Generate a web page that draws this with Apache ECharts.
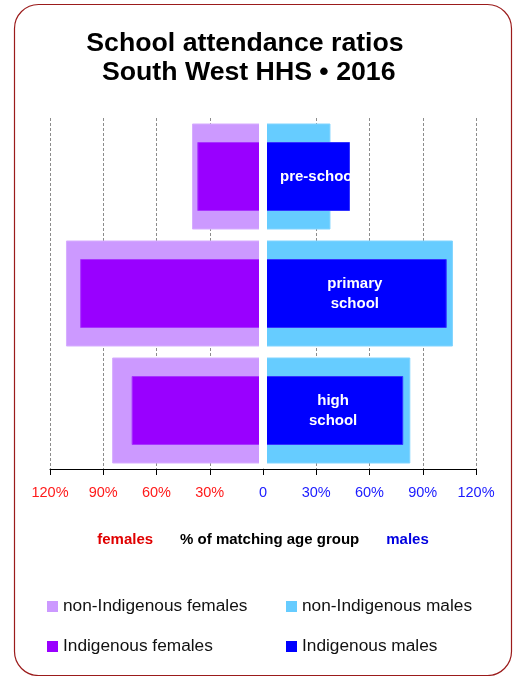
<!DOCTYPE html>
<html>
<head>
<meta charset="utf-8">
<script src="https://cdn.jsdelivr.net/npm/echarts@6/dist/echarts.min.js"></script>
<style>
html,body{margin:0;padding:0;background:#fff;}
#chart{width:517px;height:676px;}
</style>
</head>
<body>
<div id="chart"></div>
<script>
// ---- data ----
const categories = ['pre-school', 'primary school', 'high school'];
const nonIndigenousFemales = [40, 111, 85];
const indigenousFemales = [37, 103, 74];
const nonIndigenousMales = [38, 107, 83];
const indigenousMales = [49, 103.5, 79];
const tickValues = [-120, -90, -60, -30, 0, 30, 60, 90, 120];

const FEMALE_RED = '#ff1a1a';
const MALE_BLUE = '#1a1aff';
const FONT = 'Liberation Sans, Arial, sans-serif';

const chart = echarts.init(document.getElementById('chart'), null, {renderer: 'canvas'});

const neg = arr => arr.map(v => -v);
const indMaleData = indigenousMales.map((v, i) => i === 0
  ? {value: v, label: {position: 'insideLeft', distance: 17, width: 74, overflow: 'truncate', ellipsis: ''}}
  : v);

const legendBase = {
  orient: 'vertical', top: 598, itemWidth: 11, itemHeight: 11, itemGap: 23, padding: 0,
  icon: 'rect', selectedMode: false, itemStyle: {borderWidth: 0},
  textStyle: {fontFamily: FONT, fontSize: 17.3, color: '#111'}
};

const option = {
  backgroundColor: '#ffffff',
  animation: false,
  title: {
    text: 'School attendance ratios\n South West HHS • 2016',
    left: 245,
    top: 29,
    textAlign: 'center',
    padding: 0,
    textStyle: {fontFamily: FONT, fontSize: 26.7, fontWeight: 'bold', color: '#000', lineHeight: 29}
  },
  legend: [
    Object.assign({}, legendBase, {left: 47, data: ['non-Indigenous females', 'Indigenous females']}),
    Object.assign({}, legendBase, {left: 286, data: ['non-Indigenous males', 'Indigenous males']})
  ],
  grid: {left: 50, right: 41, top: 118, bottom: 207, containLabel: false},
  xAxis: {
    type: 'value', min: -120, max: 120, interval: 30,
    axisLine: {show: true, lineStyle: {color: '#000', width: 1}},
    axisTick: {show: true, length: 6, lineStyle: {color: '#000'}},
    axisLabel: {
      margin: 16,
      fontFamily: FONT,
      fontSize: 14.5,
      formatter: v => v === 0 ? '0' : Math.abs(v) + '%',
      color: v => (v < 0 ? FEMALE_RED : MALE_BLUE)
    },
    splitLine: {show: true, lineStyle: {color: '#8c8c8c', type: [3, 2], width: 1}},
    name: '{f|females}{c|% of matching age group}{m|males}',
    nameLocation: 'middle',
    nameGap: 63,
    nameTextStyle: {
      rich: {
        f: {fontFamily: FONT, fontSize: 15, fontWeight: 'bold', color: '#e00000', padding: [0, 27, 0, 0]},
        c: {fontFamily: FONT, fontSize: 15, fontWeight: 'bold', color: '#000'},
        m: {fontFamily: FONT, fontSize: 15, fontWeight: 'bold', color: '#0000e0', padding: [0, 0, 0, 27]}
      }
    }
  },
  yAxis: [
    {type: 'category', data: categories, inverse: true, show: false},
    {type: 'category', data: categories, inverse: true, show: false}
  ],
  series: [
    {
      name: 'non-Indigenous females', type: 'bar', yAxisIndex: 0, barWidth: 106, barGap: '-100%',
      data: neg(nonIndigenousFemales),
      itemStyle: {color: '#cc99ff', borderColor: '#d6adff', borderWidth: 1}
    },
    {
      name: 'non-Indigenous males', type: 'bar', yAxisIndex: 0, barWidth: 106, barGap: '-100%',
      data: nonIndigenousMales,
      itemStyle: {color: '#66ccff', borderColor: '#80d4ff', borderWidth: 1}
    },
    {
      name: 'Indigenous females', type: 'bar', yAxisIndex: 1, barWidth: 69, barGap: '-100%',
      data: neg(indigenousFemales),
      itemStyle: {color: '#9900ff', borderColor: '#a833ff', borderWidth: 1}
    },
    {
      name: 'Indigenous males', type: 'bar', yAxisIndex: 1, barWidth: 69, barGap: '-100%',
      data: indMaleData,
      itemStyle: {color: '#0000ff', borderColor: '#3333ff', borderWidth: 1},
      label: {
        show: true, position: 'inside',
        formatter: p => categories[p.dataIndex].replace(' ', '\n'),
        color: '#fff', fontFamily: FONT, fontSize: 15, fontWeight: 'bold', lineHeight: 20
      }
    }
  ],
  graphic: [
    {type: 'rect', z: 100, silent: true, shape: {x: 259, y: 118, width: 8, height: 350.5}, style: {fill: '#ffffff'}},
    {type: 'rect', z: 100, silent: true, shape: {x: 14.5, y: 4.5, width: 497, height: 671, r: 24}, style: {fill: null, stroke: '#9b1b1b', lineWidth: 1.2}}
  ]
};
chart.setOption(option);
</script>
</body>
</html>
